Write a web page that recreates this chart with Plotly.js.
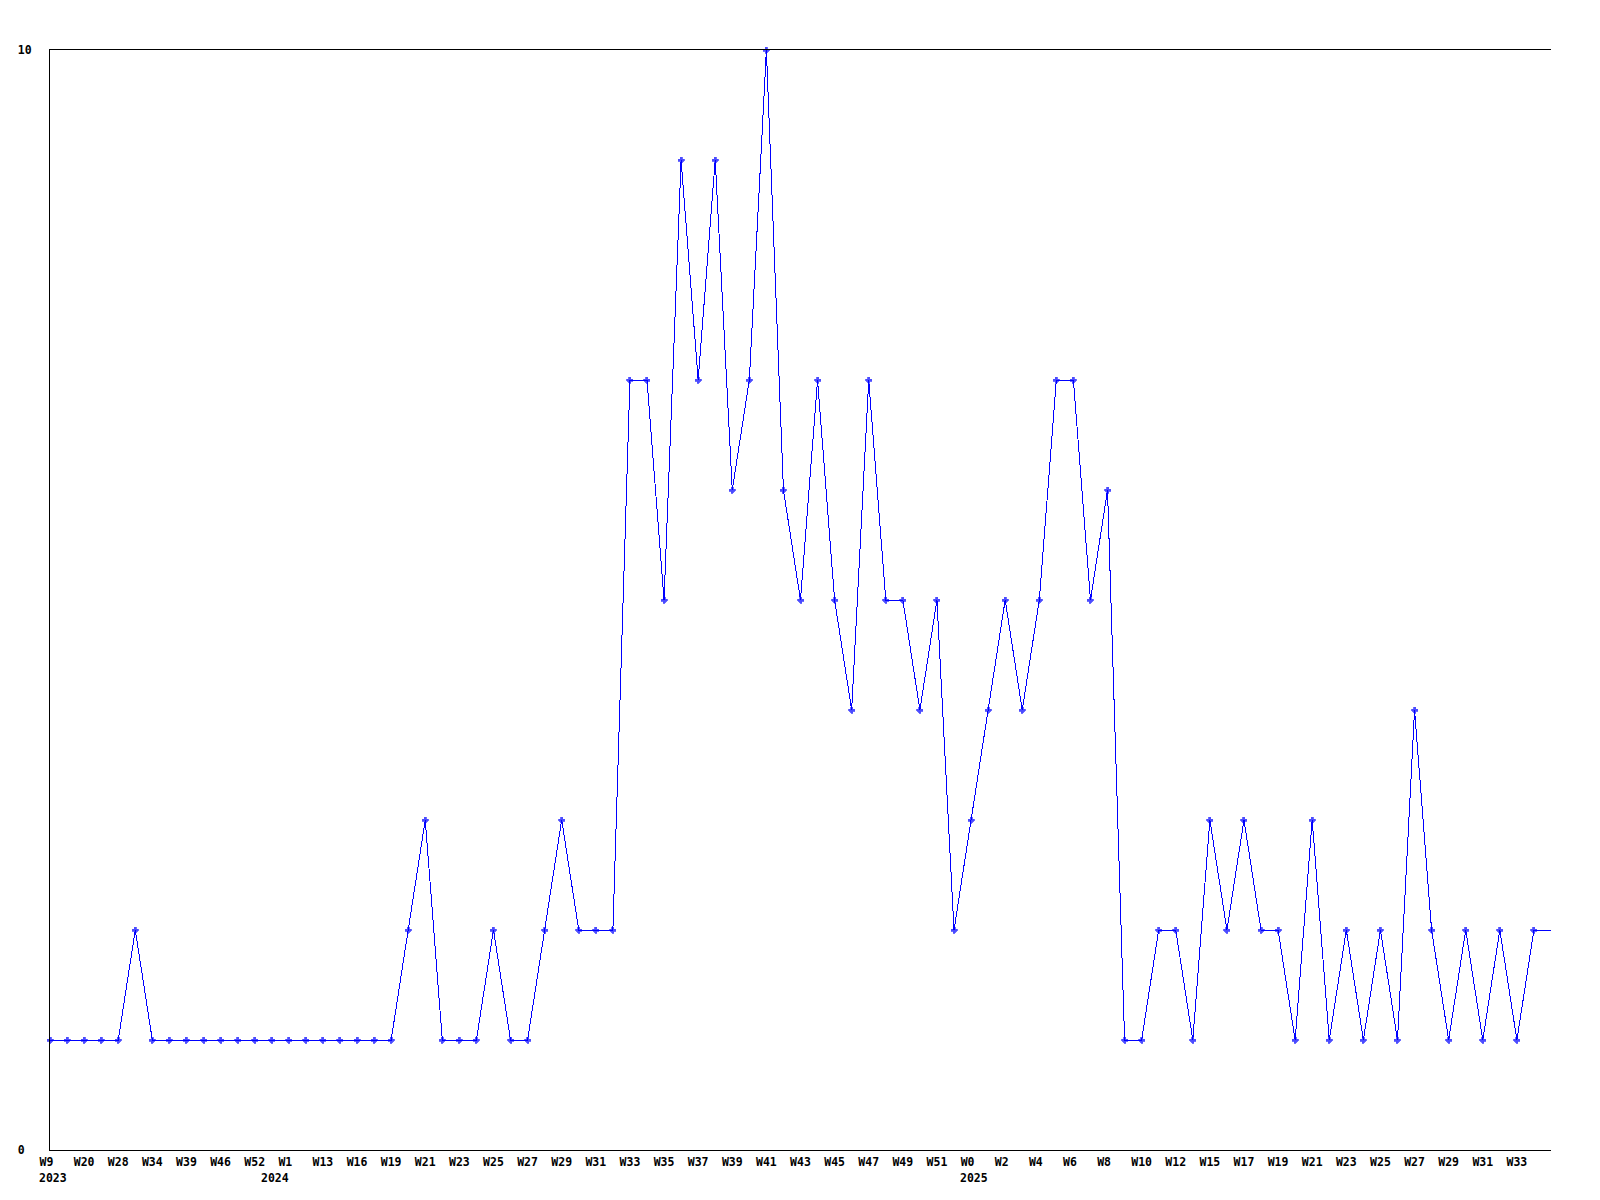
<!DOCTYPE html>
<html>
<head>
<meta charset="utf-8">
<script src="https://cdn.plot.ly/plotly-3.0.1.min.js"></script>
<style>
html,body{margin:0;padding:0;background:#fff;}
#chart{width:1600px;height:1200px;}
#chart .scatterlayer path.js-line{shape-rendering:crispEdges;}
#chart .scatterlayer path.point{shape-rendering:crispEdges;}
</style>
</head>
<body>
<div id="chart"></div>
<script>
// Weekly counts, one per point (89 points)
const counts = [
  1, 1, 1, 1, 1, 2, 1, 1, 1, 1, 1, 1, 1, 1, 1, 1, 1, 1, 1, 1, 1,
  2, 3, 1, 1, 1, 2, 1, 1, 2, 3, 2, 2, 2, 7, 7, 5, 9, 7, 9, 6, 7, 10,
  6, 5, 7, 5, 4, 7, 5, 5, 4, 5, 2, 3, 4, 5, 4, 5, 7, 7, 5, 6,
  1, 1, 2, 2, 1, 3, 2, 3, 2, 2, 1, 3, 1, 2, 1, 2, 1, 4, 2, 1, 2, 1, 2, 1, 2, 2
];
// Labels shown on every second point
const weekTickLabels = [
  'W9', 'W20', 'W28', 'W34', 'W39', 'W46', 'W52', 'W1', 'W13', 'W16', 'W19',
  'W21', 'W23', 'W25', 'W27', 'W29', 'W31', 'W33', 'W35', 'W37', 'W39', 'W41',
  'W43', 'W45', 'W47', 'W49', 'W51', 'W0', 'W2', 'W4', 'W6', 'W8', 'W10',
  'W12', 'W15', 'W17', 'W19', 'W21', 'W23', 'W25', 'W27', 'W29', 'W31', 'W33'
];
// Year labels and the index of the first point of that year
const years = ['2023', '2024', '2025'];
const yearStartIndex = [0, 13, 54];
const yTickVals = [0, 10];
const yTickLabels = ['0', '10'];

const xs = counts.map((_, i) => i);
const tickStep = 2;
const tickvals = weekTickLabels.map((_, i) => i * tickStep);
const ticktext = weekTickLabels.map(s => s.padEnd(3, '\u00a0'));
const markerSizes = counts.map((_, i) => i === counts.length - 1 ? 0 : 5);

const FONT = {family: 'DejaVu Sans Mono, Liberation Mono, monospace', size: 11.5, color: '#000', weight: 'bold'};

const trace = {
  x: xs, y: counts, type: 'scatter', mode: 'lines+markers',
  line: {color: '#0000ff', width: 1},
  marker: {color: '#0000ff', symbol: 'cross', size: markerSizes, line: {width: 0.8, color: '#0000ff'}},
  cliponaxis: false, hoverinfo: 'skip'
};

const annotations = years.map((y, k) => ({
  text: y, x: yearStartIndex[k], xref: 'x', y: 0, yref: 'paper',
  xanchor: 'left', yanchor: 'top', xshift: -13, yshift: -19,
  showarrow: false, font: FONT
}));

const layout = {
  width: 1600, height: 1200,
  margin: {l: 50, r: 49, t: 50, b: 50},
  paper_bgcolor: '#fff', plot_bgcolor: '#fff',
  showlegend: false,
  xaxis: {
    range: [0, counts.length - 1], showgrid: false, zeroline: false,
    showline: true, linecolor: '#000', linewidth: 1, mirror: true,
    tickmode: 'array', tickvals: tickvals, ticktext: ticktext,
    ticks: 'outside', ticklen: 1, tickcolor: 'rgba(0,0,0,0)',
    tickfont: FONT, tickangle: 0
  },
  yaxis: {
    range: [0, 10], showgrid: false, zeroline: false,
    showline: true, linecolor: '#000', linewidth: 1, mirror: false,
    tickmode: 'array', tickvals: yTickVals,
    ticktext: yTickLabels.map(s => s.padEnd(2, '\u00a0')),
    ticks: 'outside', ticklen: 15, tickcolor: 'rgba(0,0,0,0)',
    tickfont: FONT
  },
  annotations: annotations
};

Plotly.newPlot('chart', [trace], layout, {displayModeBar: false, staticPlot: true});
</script>
</body>
</html>
